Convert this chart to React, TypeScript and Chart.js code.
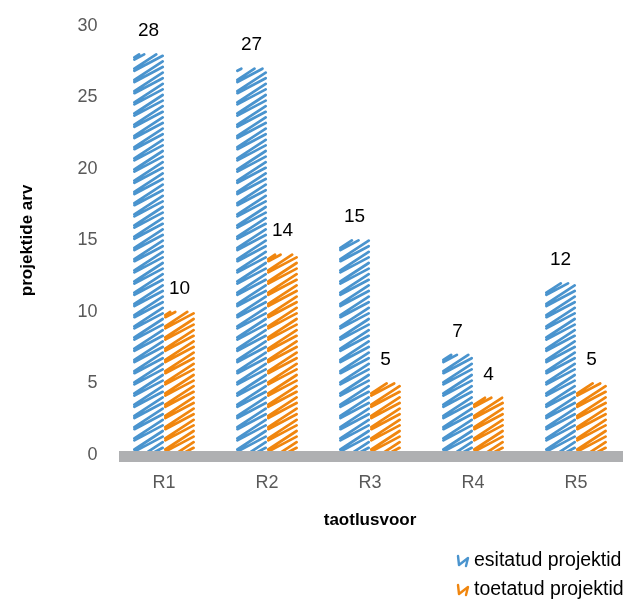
import React, { useEffect, useRef } from 'react';
import { Chart, registerables } from 'chart.js';

Chart.register(...registerables);

const categories = ['R1', 'R2', 'R3', 'R4', 'R5'];
const seriesNames = ['esitatud projektid', 'toetatud projektid'];
const submitted = [28, 27, 15, 7, 12];
const approved = [10, 14, 5, 4, 5];
const yMin = 0;
const yMax = 30;
const yStep = 5;
const xTitle = 'taotlusvoor';
const yTitle = 'projektide arv';
const colors = ['#4A94CE', '#F0860F'];

const FAMILY = '"Liberation Sans", Arial, sans-serif';

function scribble(ctx: CanvasRenderingContext2D, x0: number, x1: number, top: number, base: number, color: string) {
  ctx.save();
  ctx.beginPath();
  ctx.rect(x0 - 3, top - 3, x1 - x0 + 6, base - top + 8);
  ctx.clip();
  ctx.strokeStyle = color;
  ctx.lineWidth = 2.7;
  ctx.lineJoin = 'round';
  ctx.lineCap = 'round';
  const S = 5.6;
  const l = x0 + 1.3;
  const r = x1 - 1.3;
  ctx.beginPath();
  for (let i = 0; i < 400; i++) {
    const R = i % 2 === 0 ? 15 : 18.5;
    const y = base + R + 4 - i * S;
    if (y < top + 1.5) break;
    ctx.moveTo(l, y);
    if (y - R >= top) {
      ctx.lineTo(r, y - R);
    } else {
      const t = (y - top) / R;
      ctx.lineTo(l + t * (r - l), top);
    }
  }
  ctx.stroke();
  ctx.restore();
}

function legendIcon(ctx: CanvasRenderingContext2D, x: number, y: number, color: string) {
  ctx.save();
  ctx.strokeStyle = color;
  ctx.lineWidth = 2.4;
  ctx.lineJoin = 'round';
  ctx.lineCap = 'round';
  ctx.beginPath();
  ctx.moveTo(x + 1, y - 5);
  ctx.lineTo(x + 2, y + 4);
  ctx.lineTo(x + 11, y - 3);
  ctx.lineTo(x + 9, y + 5);
  ctx.stroke();
  ctx.restore();
}

export default function App() {
  const ref = useRef<HTMLCanvasElement>(null);

  useEffect(() => {
    const canvas = ref.current;
    if (!canvas) return;

    const drawPlugin = {
      id: 'scribbleBars',
      beforeDatasetDraw(chart: any, args: any) {
        const ctx = chart.ctx as CanvasRenderingContext2D;
        const color = colors[args.index];
        args.meta.data.forEach((el: any) => {
          const p = el.getProps(['x', 'y', 'base', 'width'], true);
          scribble(ctx, p.x - p.width / 2, p.x + p.width / 2, p.y, p.base, color);
        });
        return false;
      },
      afterDatasetsDraw(chart: any) {
        const ctx = chart.ctx as CanvasRenderingContext2D;
        const area = chart.chartArea;
        const y0 = chart.scales.y.getPixelForValue(0);
        ctx.save();
        ctx.fillStyle = '#AFB0B2';
        ctx.fillRect(area.left + 6.5, y0 - 4, chart.width, 11);
        ctx.font = '19px ' + FAMILY;
        ctx.fillStyle = '#000';
        ctx.textAlign = 'center';
        ctx.textBaseline = 'middle';
        chart.data.datasets.forEach((ds: any, i: number) => {
          const meta = chart.getDatasetMeta(i);
          meta.data.forEach((el: any, j: number) => {
            const p = el.getProps(['x', 'y'], true);
            ctx.fillText(String(ds.data[j]), p.x, p.y - 23.5);
          });
        });
        ctx.restore();
      },
      afterDraw(chart: any) {
        const ctx = chart.ctx as CanvasRenderingContext2D;
        ctx.save();
        ctx.font = '19.5px ' + FAMILY;
        ctx.fillStyle = '#000';
        ctx.textAlign = 'left';
        ctx.textBaseline = 'middle';
        chart.data.datasets.forEach((ds: any, i: number) => {
          const y = 561 + i * 29;
          legendIcon(ctx, 457, y, colors[i]);
          ctx.fillText(ds.label, 474, y);
        });
        ctx.restore();
      },
    };

    const chart = new Chart(canvas, {
      type: 'bar',
      data: {
        labels: categories,
        datasets: [
          { label: seriesNames[0], data: submitted, backgroundColor: colors[0], barPercentage: 1, categoryPercentage: 0.6 },
          { label: seriesNames[1], data: approved, backgroundColor: colors[1], barPercentage: 1, categoryPercentage: 0.6 },
        ],
      },
      options: {
        responsive: false,
        animation: false,
        devicePixelRatio: 1,
        layout: { padding: { top: 20, right: 12.5, left: 0, bottom: 75 } },
        plugins: { legend: { display: false }, tooltip: { enabled: false } },
        scales: {
          x: {
            grid: { display: false, drawTicks: false },
            border: { display: false },
            ticks: { font: { family: FAMILY, size: 18 }, color: '#595959', padding: 17 },
            title: {
              display: true,
              text: xTitle,
              font: { family: FAMILY, size: 17, weight: 'bold' },
              color: '#000',
              padding: { top: 0, bottom: 0 },
            },
            afterFit: (s: any) => {
              s.height = 76;
            },
          },
          y: {
            min: yMin,
            max: yMax,
            ticks: { stepSize: yStep, font: { family: FAMILY, size: 18 }, color: '#595959', padding: 15 },
            grid: { display: false, drawTicks: false },
            border: { display: false },
            title: {
              display: true,
              text: yTitle,
              font: { family: FAMILY, size: 17, weight: 'bold' },
              color: '#000',
              padding: { top: 17, bottom: 0 },
            },
            afterFit: (s: any) => {
              s.width = 112.5;
            },
          },
        },
      } as any,
      plugins: [drawPlugin as any],
    });

    return () => chart.destroy();
  }, []);

  return (
    <div style={{ position: 'absolute', left: 0, top: 0, width: 623, height: 606, overflow: 'hidden', background: '#fff' }}>
      <canvas ref={ref} width={640} height={606} style={{ display: 'block' }} />
    </div>
  );
}
